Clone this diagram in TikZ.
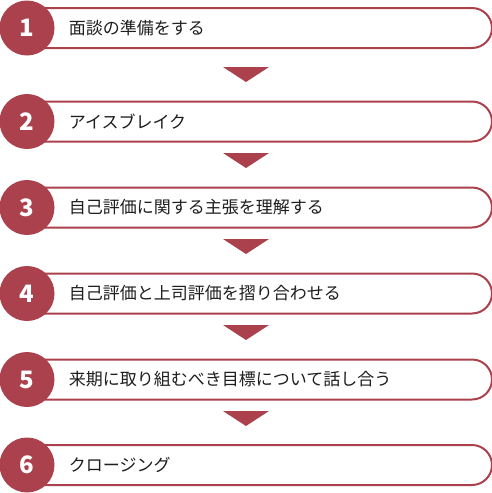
\documentclass[tikz,border=0pt]{standalone}
\usepackage{fontspec}
\usepackage{xcolor}
\usetikzlibrary{positioning}
\usetikzlibrary{shapes.misc}
\newfontfamily\jpfont{Noto Sans CJK JP}
\definecolor{stepred}{RGB}{170,65,76}
\definecolor{steptextgray}{RGB}{30,30,30}
\tikzset{
  stepbar/.style={rounded rectangle, rounded rectangle left arc=none, draw=stepred, line width=2pt, fill=white, minimum width=464pt, minimum height=40pt, anchor=west, inner sep=0pt},
  stepnum/.style={circle, fill=stepred, minimum size=55pt, inner sep=0pt, text=white, font=\jpfont\bfseries\fontsize{24pt}{24pt}\selectfont},
  steptext/.style={anchor=west, inner sep=0pt, text=steptextgray, font=\jpfont\fontsize{17pt}{17pt}\selectfont},
  steparrow/.style={fill=stepred}
}
\begin{document}
\begin{tikzpicture}[x=1pt,y=-1pt]
\useasboundingbox (0,0) rectangle (492,493);

% Schritte
\node[stepbar] (b1) at (27,28) {};
\node[stepnum] (n1) at (27,28) {1};
\node[steptext, right=14pt of n1] (t1) {面談の準備をする};

\node[stepbar] (b2) at (27,121.5) {};
\node[stepnum] (n2) at (27,121.5) {2};
\node[steptext, right=14pt of n2] (t2) {アイスブレイク};

\node[stepbar] (b3) at (27,207.5) {};
\node[stepnum] (n3) at (27,207.5) {3};
\node[steptext, right=14pt of n3] (t3) {自己評価に関する主張を理解する};

\node[stepbar] (b4) at (27,293.5) {};
\node[stepnum] (n4) at (27,293.5) {4};
\node[steptext, right=14pt of n4] (t4) {自己評価と上司評価を摺り合わせる};

\node[stepbar] (b5) at (27,379.5) {};
\node[stepnum] (n5) at (27,379.5) {5};
\node[steptext, right=14pt of n5] (t5) {来期に取り組むべき目標について話し合う};

\node[stepbar] (b6) at (27,465) {};
\node[stepnum] (n6) at (27,465) {6};
\node[steptext, right=14pt of n6] (t6) {クロージング};

% Pfeile
\fill[steparrow] (223,67) -- (269,67) -- (246,82) -- cycle;
\fill[steparrow] (223,153) -- (269,153) -- (246,168) -- cycle;
\fill[steparrow] (223,239) -- (269,239) -- (246,254) -- cycle;
\fill[steparrow] (223,325) -- (269,325) -- (246,340) -- cycle;
\fill[steparrow] (223,411) -- (269,411) -- (246,426) -- cycle;

\end{tikzpicture}
\end{document}
